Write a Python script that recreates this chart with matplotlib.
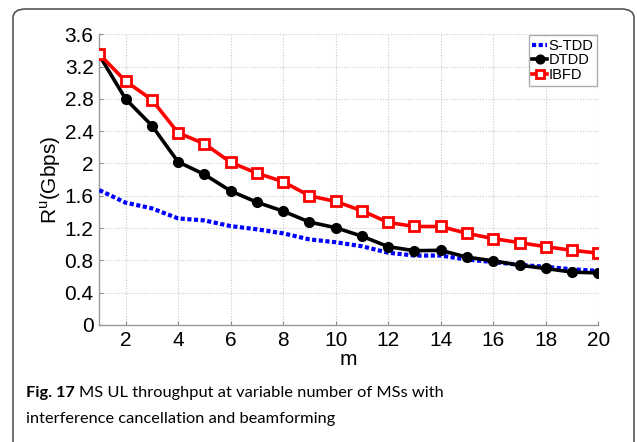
import matplotlib
matplotlib.use("Agg")
import matplotlib.pyplot as plt
from matplotlib.patches import FancyBboxPatch
from matplotlib.ticker import FormatStrFormatter

# datos
m = list(range(1, 21))
s_tdd = [1.67, 1.515, 1.445, 1.32, 1.295, 1.225, 1.185, 1.135, 1.06, 1.025,
         0.975, 0.895, 0.86, 0.86, 0.81, 0.78, 0.745, 0.72, 0.69, 0.67]
dtdd = [3.34, 2.80, 2.47, 2.02, 1.865, 1.66, 1.52, 1.41, 1.275, 1.205,
        1.10, 0.97, 0.92, 0.925, 0.84, 0.795, 0.74, 0.70, 0.655, 0.645]
ibfd = [3.355, 3.02, 2.79, 2.38, 2.245, 2.015, 1.88, 1.775, 1.60, 1.53,
        1.415, 1.27, 1.22, 1.22, 1.135, 1.07, 1.02, 0.97, 0.925, 0.89]
xticks = list(range(2, 21, 2))
yticks = [0, 0.4, 0.8, 1.2, 1.6, 2.0, 2.4, 2.8, 3.2, 3.6]

plt.rcParams['font.family'] = ['Liberation Sans', 'DejaVu Sans']

fig = plt.figure(figsize=(6.37, 4.42), dpi=100)
W, H = 637, 442
ax = fig.add_axes([99.3 / W, 1 - 325 / H, (598.3 - 99.3) / W, (325 - 34.3) / H])

ax.plot(m, s_tdd, color='#0000ff', linestyle=(0, (1, 0.6)), linewidth=3, label='S-TDD', zorder=3)
ax.plot(m, dtdd, color='black', linewidth=2.6, marker='o', markersize=7, label='DTDD', zorder=4)
ax.plot(m, ibfd, color='#ff0000', linewidth=2.6, marker='s', markersize=7,
        markerfacecolor='white', markeredgewidth=2, label='IBFD', zorder=5)

ax.set_xlim(1, 20)
ax.set_ylim(0, 3.6)
ax.set_xticks(xticks)
ax.set_yticks(yticks)
ax.yaxis.set_major_formatter(FormatStrFormatter('%g'))
ax.tick_params(direction='in', length=3, labelsize=15, color='#888888', pad=4)
ax.grid(True, color='#c8c8c8', linestyle=(0, (1, 1.5)), linewidth=0.8)
ax.set_axisbelow(True)
for s in ['top', 'right']:
    ax.spines[s].set_visible(False)
for s in ['left', 'bottom']:
    ax.spines[s].set_color('#999999')
    ax.spines[s].set_linewidth(1)

ax.set_xlabel('m', fontsize=15, labelpad=0)
ax.set_ylabel(r'R$^{\mathregular{u}}$(Gbps)', fontsize=15, labelpad=1)

leg = ax.legend(loc='upper right', bbox_to_anchor=(597 / W, 1 - 35 / H), bbox_transform=fig.transFigure,
                fontsize=10.5, handlelength=1.0, handletextpad=0.1, borderpad=0.25,
                labelspacing=0.05, borderaxespad=0, fancybox=False, markerscale=0.9)
leg.get_frame().set_edgecolor('#999999')
leg.get_frame().set_linewidth(1)

# marco redondeado de la figura
box = FancyBboxPatch((13 / W, -0.1), 621 / W, 1.1 - 9 / H, boxstyle='round,pad=0,rounding_size=0.02',
                     transform=fig.transFigure, facecolor='none', edgecolor='#555555', linewidth=1.2,
                     clip_on=False)
fig.patches.append(box)

# pie de figura
cap_font = ['Lato', 'DejaVu Sans']
t1 = fig.text(26 / W, 1 - 397 / H, 'Fig. 17', fontsize=11.8, fontweight='bold', va='baseline',
              ha='left', family=cap_font)
fig.canvas.draw()
bb = t1.get_window_extent()
fig.text((bb.x1 + 4) / W, 1 - 397 / H, 'MS UL throughput at variable number of MSs with',
         fontsize=11.8, va='baseline', ha='left', family=cap_font)
fig.text(26 / W, 1 - 423 / H, 'interference cancellation and beamforming',
         fontsize=11.8, va='baseline', ha='left', family=cap_font)

fig.savefig('out.png', dpi=100)
